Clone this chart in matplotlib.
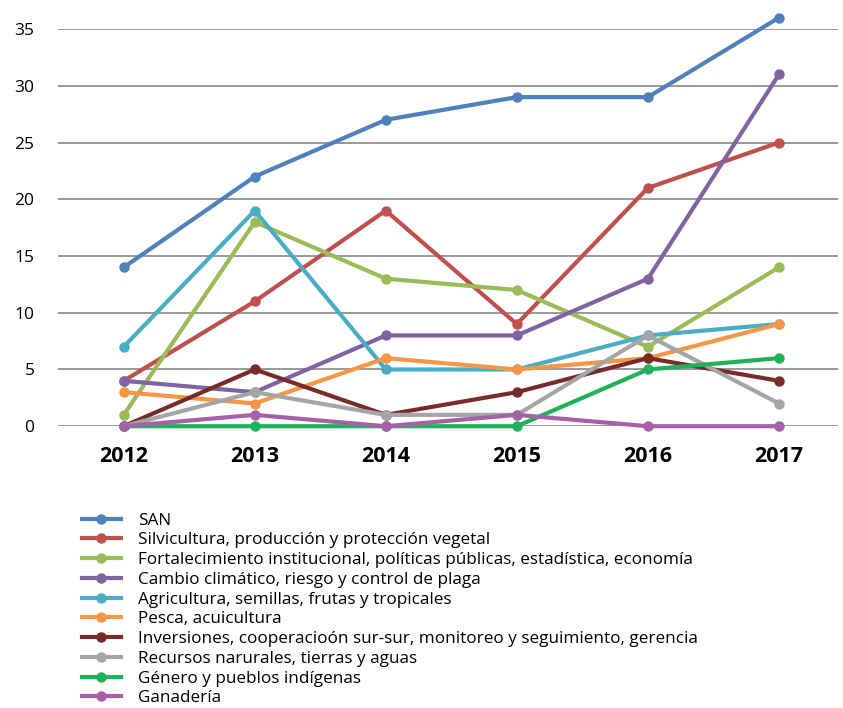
import matplotlib.pyplot as plt

plt.rcParams['font.family'] = ['Open Sans', 'DejaVu Sans']

years = ['2012', '2013', '2014', '2015', '2016', '2017']

san = [14, 22, 27, 29, 29, 36]
silvicultura = [4, 11, 19, 9, 21, 25]
fortalecimiento = [1, 18, 13, 12, 7, 14]
cambio = [4, 3, 8, 8, 13, 31]
agricultura = [7, 19, 5, 5, 8, 9]
pesca = [3, 2, 6, 5, 6, 9]
inversiones = [0, 5, 1, 3, 6, 4]
recursos = [0, 3, 1, 1, 8, 2]
genero = [0, 0, 0, 0, 5, 6]
ganaderia = [0, 1, 0, 1, 0, 0]

series = [
    ('SAN', san, '#4F81BD'),
    ('Silvicultura, producción y protección vegetal', silvicultura, '#C0504D'),
    ('Fortalecimiento institucional, políticas públicas, estadística, economía', fortalecimiento, '#9BBB59'),
    ('Cambio climático, riesgo y control de plaga', cambio, '#8064A2'),
    ('Agricultura, semillas, frutas y tropicales', agricultura, '#4BACC6'),
    ('Pesca, acuicultura', pesca, '#F79646'),
    ('Inversiones, cooperacioón sur-sur, monitoreo y seguimiento, gerencia', inversiones, '#772C2A'),
    ('Recursos narurales, tierras y aguas', recursos, '#A5A5A5'),
    ('Género y pueblos indígenas', genero, '#1FB25A'),
    ('Ganadería', ganaderia, '#A660A8'),
]

fig = plt.figure(figsize=(8.43, 7.08), dpi=100)
ax = fig.add_axes([0.069, 0.398, 0.925, 0.561])

x = list(range(len(years)))
for label, vals, color in series:
    ax.plot(x, vals, color=color, lw=3, marker='o', ms=6.5,
            label=label, clip_on=False, zorder=3)

ax.set_xlim(-0.5, 5.45)
ax.set_ylim(0, 35)
ax.set_yticks(range(0, 36, 5))
ax.set_xticks(x)
ax.set_xticklabels(years, fontsize=15.5, fontweight='bold')
ax.tick_params(axis='y', labelsize=12.5, length=0, pad=17)
ax.tick_params(axis='x', length=0, pad=14)
ax.yaxis.grid(True, color='#888888', lw=1.2)
ax.set_axisbelow(True)
for s in ax.spines.values():
    s.set_visible(False)

# legend stacked under the plot, one entry per row
fig.legend(loc='upper left', bbox_to_anchor=(0.097, 0.276), frameon=False,
           fontsize=12.3, labelspacing=0.22, handlelength=2.3, handletextpad=1.0,
           borderpad=0, borderaxespad=0)

fig.savefig('out.png', dpi=100)
